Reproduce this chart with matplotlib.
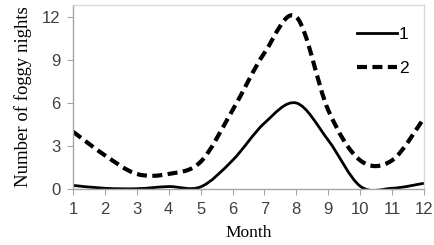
import matplotlib
matplotlib.use("Agg")
import matplotlib.pyplot as plt
from matplotlib.path import Path
from matplotlib.patches import PathPatch
from matplotlib.lines import Line2D
import numpy as np

months = [1, 2, 3, 4, 5, 6, 7, 8, 9, 10, 11, 12]
series_1 = [0.25, 0.05, 0.02, 0.17, 0.15, 2.0, 4.6, 6.0, 3.4, 0.2, 0.05, 0.4]
series_2 = [4.0, 2.35, 1.05, 1.05, 1.9, 5.5, 9.5, 12.0, 5.5, 2.0, 2.0, 4.95]
labels = ["1", "2"]
y_ticks = [0, 3, 6, 9, 12]


def smooth_path(x, y):
    # Catmull-Rom style bezier through the points (like Excel "smoothed line")
    x = np.asarray(x, float)
    y = np.asarray(y, float)
    n = len(x)
    verts = [(x[0], y[0])]
    codes = [Path.MOVETO]
    for i in range(n - 1):
        i0 = max(i - 1, 0)
        i3 = min(i + 2, n - 1)
        c1 = (x[i] + (x[i + 1] - x[i0]) / 6, y[i] + (y[i + 1] - y[i0]) / 6)
        c2 = (x[i + 1] - (x[i3] - x[i]) / 6, y[i + 1] - (y[i3] - y[i]) / 6)
        verts += [c1, c2, (x[i + 1], y[i + 1])]
        codes += [Path.CURVE4] * 3
    return Path(verts, codes)


fig = plt.figure(figsize=(4.35, 2.45), dpi=100)
ax = fig.add_axes([73 / 435, 1 - 189 / 245, 351 / 435, 184 / 245])

solid = dict(color="black", linewidth=2.0, linestyle="-")
dashed = dict(color="black", linewidth=3.0, linestyle=(0, (2.4, 1.3)))

ax.add_patch(PathPatch(smooth_path(months, series_1), fill=False, capstyle="butt",
                       joinstyle="round", **solid))
ax.add_patch(PathPatch(smooth_path(months, series_2), fill=False, capstyle="butt",
                       joinstyle="round", **dashed))

ax.set_xlim(1, 12)
ax.set_ylim(0, 12.84)
ax.set_xticks(months)
ax.set_yticks(y_ticks)

tick_font = dict(family="Liberation Sans", size=12)
ax.set_xticklabels([str(m) for m in months], color="#404040", **tick_font)
ax.set_yticklabels([str(t) for t in y_ticks], color="#404040", **tick_font)
ax.tick_params(axis="both", direction="out", length=4, width=0.8, color="#a6a6a6")
ax.tick_params(axis="x", pad=5)
ax.tick_params(axis="y", pad=5)

for side in ["left", "bottom"]:
    ax.spines[side].set_color("#a6a6a6")
for side in ["top", "right"]:
    ax.spines[side].set_color("#d9d9d9")
for s in ax.spines.values():
    s.set_linewidth(1.0)

ax.set_xlabel("Month", family="Liberation Serif", size=12.5, labelpad=6)
ax.set_ylabel("Number of foggy nights", family="Liberation Serif", size=13.5, labelpad=7)

handles = [Line2D([], [], **solid), Line2D([], [], **dashed)]
leg = ax.legend(handles, labels, loc="upper right", bbox_to_anchor=(1.0, 0.965),
                frameon=False, handlelength=2.3, handletextpad=0.1,
                labelspacing=1.1, prop=dict(family="Liberation Sans", size=12.5))

fig.savefig("out.png", dpi=100)
